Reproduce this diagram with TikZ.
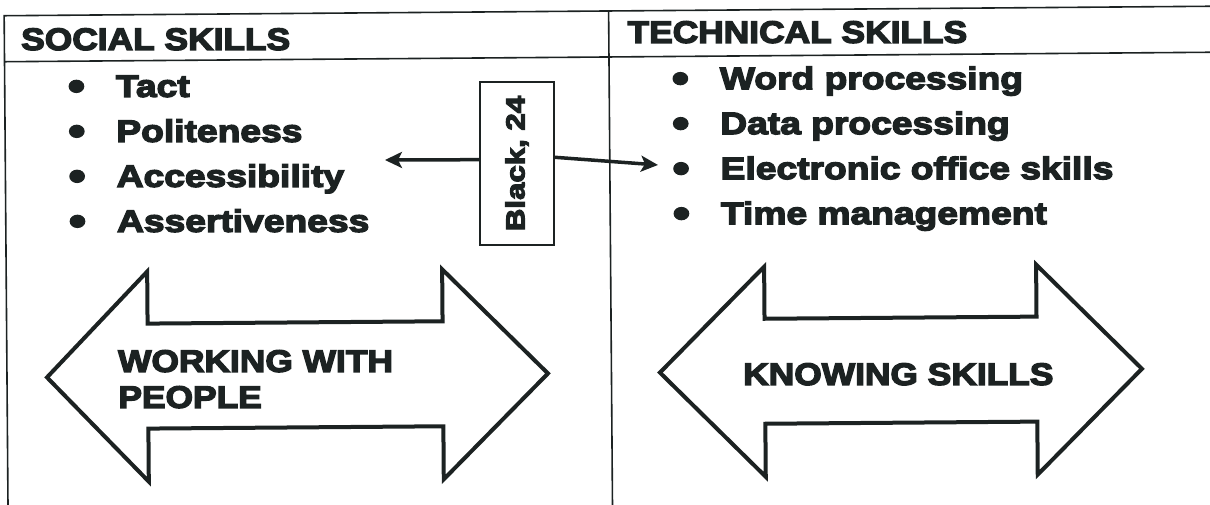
\documentclass[tikz,border=0pt]{standalone}
\usepackage{fontspec}
\usetikzlibrary{arrows.meta}
\newfontfamily\heavy{Liberation Sans}[UprightFont={* Bold}, FakeBold=4.5, FakeStretch=1.2]
\newfontfamily\heavycaps{Liberation Sans}[UprightFont={* Bold}, FakeBold=4.5, FakeStretch=1.14]
\definecolor{ink}{RGB}{28,34,34}
\newcommand{\mybul}{\llap{\makebox[48pt][l]{\raisebox{-2.8pt}{\scalebox{1.3}{\textbullet}}}}}
\begin{document}
\begin{tikzpicture}[x=1pt,y=-1pt,
  tline/.style={line width=1.6pt, draw=ink, line join=miter},
  bigarrow/.style={line width=4pt, draw=ink, line join=miter, fill=white},
  head/.style={anchor=base west, inner sep=0pt, text=ink, font=\heavycaps\fontsize{31}{31}\selectfont},
  item/.style={anchor=base west, inner sep=0pt, text=ink, font=\heavy\fontsize{31}{31}\selectfont},
  conn/.style={line width=3.5pt, draw=ink, -{Stealth[length=17pt,width=16pt,inset=4pt]}},
  tagbox/.style={draw=ink, line width=1.6pt, minimum width=74pt, minimum height=163pt, inner sep=0pt, text=ink, font=\heavy\fontsize{26}{26}\selectfont},
]
\useasboundingbox (0,0) rectangle (1210,504);
\fill[white] (0,0) rectangle (1210,504);
\clip (0,0) rectangle (1210,504);
\begin{scope}[rotate around={0.45:(605,252)}]
  % table
  \draw[tline] (1240,11) -- (6,11) -- (6,540);
  \draw[tline] (6,57) -- (1240,57);
  \draw[tline] (610.5,11) -- (610.5,540);
  % headers
  \node[head] (soc) at (22.6,45.4) {SOCIAL SKILLS};
  \node[head] (tec) at (629,43) {TECHNICAL SKILLS};
  % left items
  \node[item] (l1) at (117,93)  {\mybul Tact};
  \node[item] (l2) at (117,138) {\mybul Politeness};
  \node[item] (l3) at (117,183) {\mybul Accessibility};
  \node[item] (l4) at (117,228) {\mybul Assertiveness};
  % right items
  \node[item] (r1) at (721,90)  {\mybul Word processing};
  \node[item] (r2) at (721,135) {\mybul Data processing};
  \node[item] (r3) at (721,180) {\mybul Electronic office skills};
  \node[item] (r4) at (721,225) {\mybul Time management};
  % tag box and connectors
  \node[tagbox] (box) at (517.7,162.8) {\rotatebox{90}{Black, 24}};
  \coordinate (lt) at (385.7,158.3);
  \coordinate (rt) at (658.7,165.4);
  \draw[conn] ([yshift=3.8pt]box.west) -- (lt);
  \draw[conn] ([yshift=6.2pt]box.east) -- (rt);
  % big double arrows
  \draw[bigarrow] (46,373) -- (147,268) -- (147,320) -- (442,320) -- (442,268) -- (547,373)
     -- (442,478) -- (442,425) -- (147,425) -- (147,478) -- cycle;
  \draw[bigarrow] (659,373) -- (764,268) -- (764,320) -- (1036,320) -- (1036,268) -- (1141,373)
     -- (1036,478) -- (1036,425) -- (764,425) -- (764,478) -- cycle;
  \node[head] (wp1) at (117,368) {WORKING WITH};
  \node[head] (wp2) at (117,404) {PEOPLE};
  \node[head] (ks) at (742,386) {KNOWING SKILLS};
\end{scope}
\end{tikzpicture}
\end{document}
